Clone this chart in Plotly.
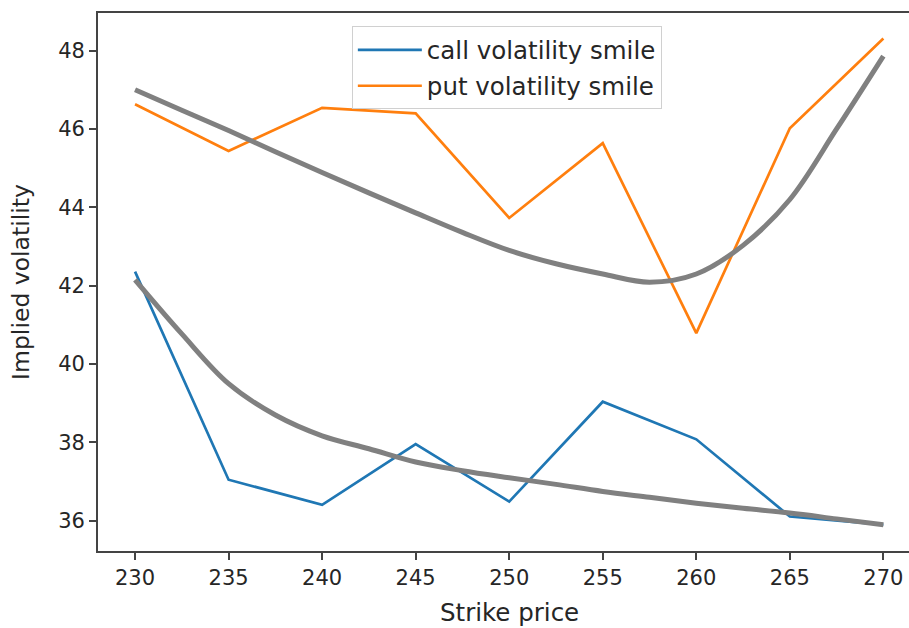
import plotly.graph_objects as go

strikes = [230, 235, 240, 245, 250, 255, 260, 265, 270]
call_iv = [42.36, 37.05, 36.41, 37.96, 36.49, 39.04, 38.08, 36.11, 35.90]
put_iv = [46.63, 45.44, 46.54, 46.40, 43.73, 45.64, 40.79, 46.02, 48.31]

fit_x = [230, 232.5, 235, 237.5, 240, 242.5, 245, 247.5, 250, 252.5, 255, 257.5, 260, 262.5, 265, 267.5, 270]
call_fit = [42.15, 40.77, 39.50, 38.70, 38.17, 37.84, 37.50, 37.28, 37.10, 36.93, 36.75, 36.60, 36.45, 36.32, 36.20, 36.05, 35.90]
put_fit = [47.00, 46.48, 45.96, 45.42, 44.89, 44.37, 43.86, 43.36, 42.90, 42.56, 42.30, 42.09, 42.30, 43.03, 44.20, 46.00, 47.86]

x_ticks = [230, 235, 240, 245, 250, 255, 260, 265, 270]
y_ticks = [36, 38, 40, 42, 44, 46, 48]

FONT = "DejaVu Sans"
TXT = "#262626"

fig = go.Figure()
fig.add_trace(go.Scatter(x=strikes, y=call_iv, mode="lines", name="call volatility smile",
                         line=dict(color="#1f77b4", width=2.7), legendgroup="a"))
fig.add_trace(go.Scatter(x=strikes, y=put_iv, mode="lines", name="put volatility smile",
                         line=dict(color="#ff7f0e", width=2.7), legendgroup="b"))
fig.add_trace(go.Scatter(x=fit_x, y=call_fit, mode="lines", showlegend=False,
                         line=dict(color="#808080", width=5, shape="spline", smoothing=1.0)))
fig.add_trace(go.Scatter(x=fit_x, y=put_fit, mode="lines", showlegend=False,
                         line=dict(color="#808080", width=5, shape="spline", smoothing=1.0)))

fig.update_layout(
    width=909, height=628,
    margin=dict(l=98, r=0, t=13, b=77, autoexpand=False),
    paper_bgcolor="white", plot_bgcolor="white",
    font=dict(family=FONT, color=TXT, size=21),
    legend=dict(x=0.313, y=0.975, xanchor="left", yanchor="top",
                bgcolor="rgba(255,255,255,0.85)", bordercolor="#d0d0d0", borderwidth=1,
                font=dict(size=24.5, family=FONT, color=TXT), tracegroupgap=1,
                itemwidth=64),
    xaxis=dict(range=[228.02, 271.37], tickvals=x_ticks, ticks="outside", ticklen=7,
               tickwidth=1.5, tickcolor="#444", showgrid=False, zeroline=False,
               showline=True, linecolor="#444", linewidth=1.8, mirror=True, automargin=False,
               tickfont=dict(size=21, family=FONT, color=TXT)),
    yaxis=dict(range=[35.23, 48.96], tickvals=y_ticks, ticks="outside", ticklen=7,
               tickwidth=1.5, tickcolor="#444", showgrid=False, zeroline=False,
               showline=True, linecolor="#444", linewidth=1.8, mirror=False, automargin=False,
               tickfont=dict(size=21, family=FONT, color=TXT),
               title=dict(text="Implied volatility", font=dict(size=23.5, family=FONT, color=TXT), standoff=22)),
)

fig.add_annotation(x=250, xref="x", y=-0.115, yref="paper", text="Strike price",
                   showarrow=False, font=dict(size=24.5, family=FONT, color=TXT),
                   xanchor="center", yanchor="middle")

fig.write_html("out.html", config={"displayModeBar": False},
               post_script="document.body.style.margin='0';")
